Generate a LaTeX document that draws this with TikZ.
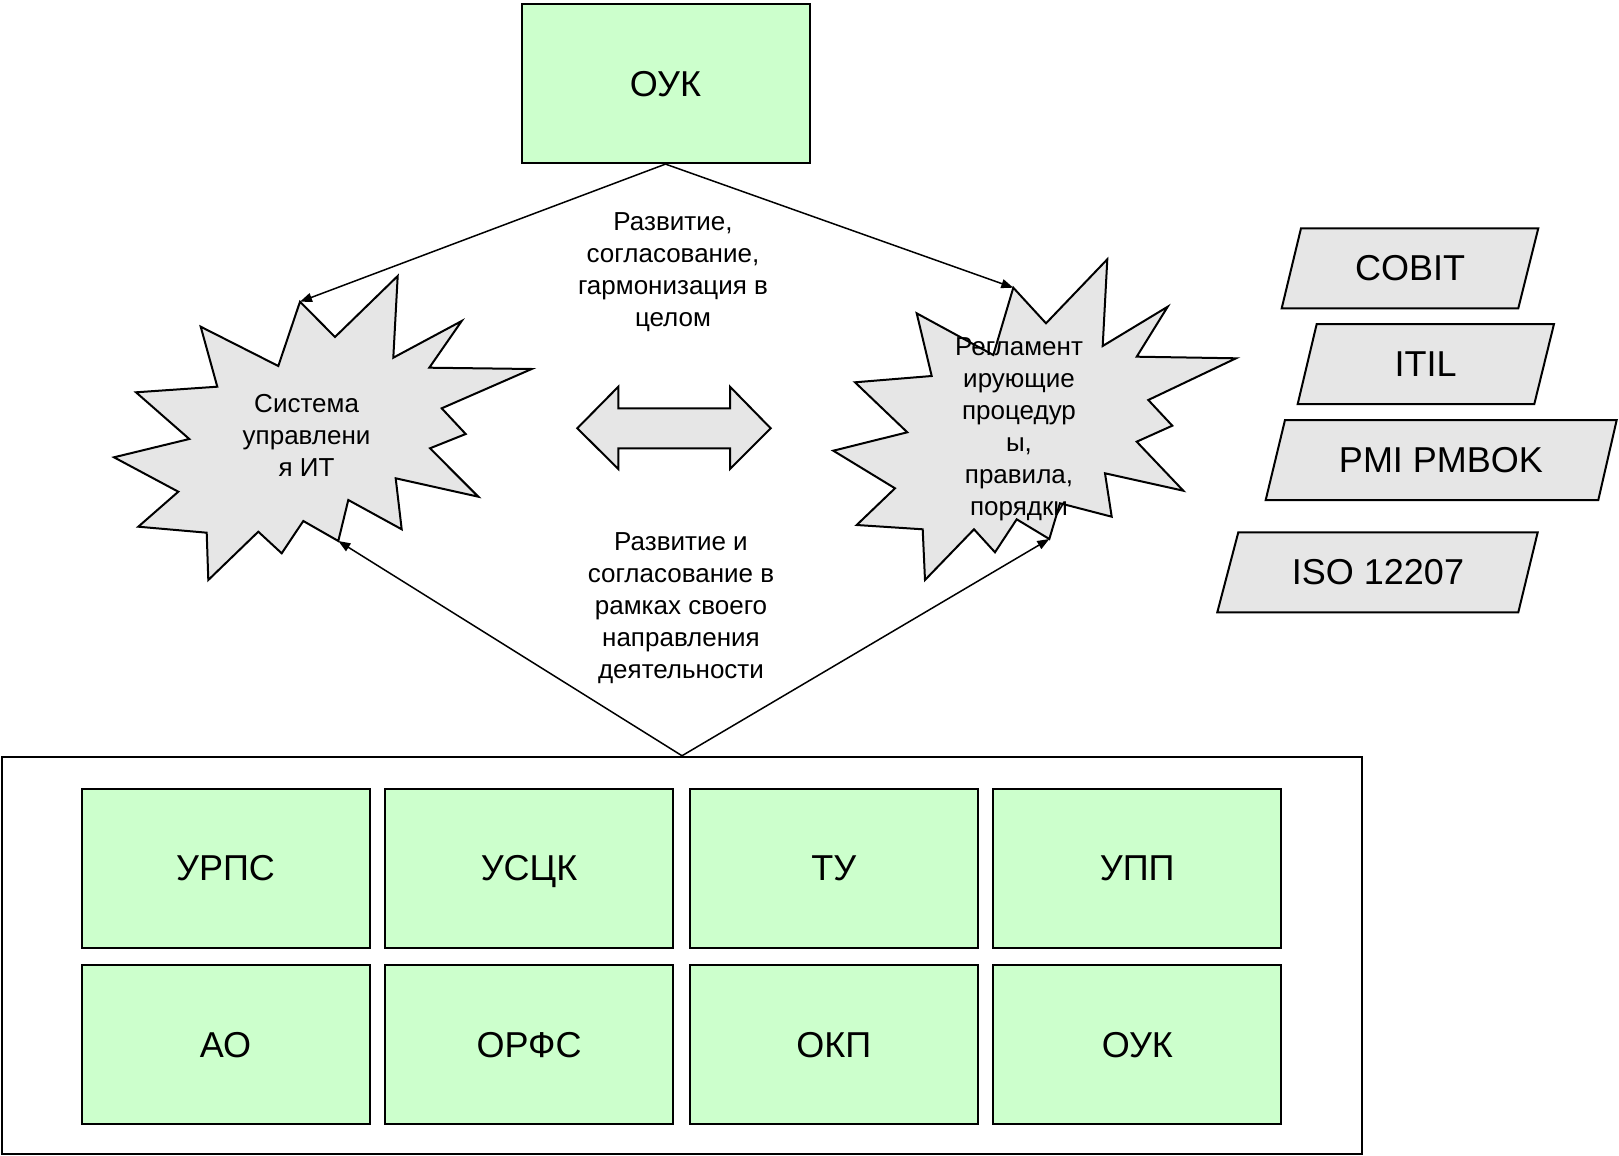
\documentclass[tikz,border=0pt]{standalone}
\usepackage{fontspec}
\setmainfont{Liberation Sans}
\usetikzlibrary{arrows.meta}
\definecolor{unitgreen}{HTML}{CCFFCC}
\definecolor{burstgray}{HTML}{E6E6E6}

\begin{document}
\begin{tikzpicture}[x=0.5pt,y=-0.5pt,
    unit/.style={draw=black,line width=1pt,fill=unitgreen,minimum width=144pt,minimum height=79.5pt,text depth=0pt,font=\fontsize{18}{22}\selectfont},
    std/.style={draw=black,line width=1pt,fill=burstgray},
    burst/.style={draw=black,line width=1pt,fill=burstgray,line join=miter},
    link/.style={line width=0.75pt,-{Triangle[length=6pt,width=4.5pt]}},
    note/.style={align=center,font=\fontsize{13}{16}\selectfont},
    stdtext/.style={font=\fontsize{18}{22}\selectfont}]
      \tikzstyle{every node}+=[inner sep=0pt]
      \useasboundingbox (0,0) rectangle (1619,1156);
      % top unit
      \node[unit] (oukTop) at (665.5,83.6) {ОУК};
      % group of units
      \node[draw=black,line width=1pt,minimum width=680pt,minimum height=198.75pt] (grp) at (682,955.5) {};
      \node[unit] (urps) at (225.6,868.3) {УРПС};
      \node[unit] (usck) at (529.1,868.3) {УСЦК};
      \node[unit] (tu) at (833.7,868.3) {ТУ};
      \node[unit] (upp) at (1137.3,868.3) {УПП};
      \node[unit] (ao) at (225.6,1044.9) {АО};
      \node[unit] (orfs) at (529.1,1044.9) {ОРФС};
      \node[unit] (okp) at (833.7,1044.9) {ОКП};
      \node[unit] (oukLow) at (1137.3,1044.9) {ОУК};
      % left burst
      \draw[burst] (300,301.7) coordinate (itTop) -- (335,337) -- (397.7,276) -- (393.3,357.7)
        -- (461.7,321) -- (429.3,367.7) -- (531.7,369) -- (441.7,408.3) -- (465.7,434)
        -- (430,448.3) -- (478.3,496.7) -- (395.7,478.3) -- (401.7,529.3) -- (348.3,500)
        -- (338.3,541) coordinate (itLow) -- (303.3,521) -- (281.7,553.3) -- (258.3,531.7)
        -- (208.3,580) -- (206.7,532.7) -- (138.3,526.7) -- (178.3,491.7) -- (114,457.3)
        -- (189.3,439) -- (136,392.3) -- (217.3,386.7) -- (200.7,326.7) -- (278.3,366) -- cycle;
      \node[note] (itText) at (306.6,435) {Система\\управлени\\я ИТ};
      % right burst
      \draw[burst] (1013.3,287.7) coordinate (regTop) -- (1046,323.3) -- (1107.3,259.3) -- (1102.7,346)
        -- (1167.7,306.7) -- (1136.7,356.7) -- (1236,358.3) -- (1148.3,400) -- (1172.3,425.7)
        -- (1136.7,441.7) -- (1183.3,490.7) -- (1105,473.3) -- (1111.7,516.7) -- (1060,503.3)
        -- (1049.3,539) coordinate (regLow) -- (1016.7,519.3) -- (995,552.3) -- (974,529.3)
        -- (925,580) -- (922.7,529.3) -- (856.7,525) -- (895,488.3) -- (833.3,450.7)
        -- (907.3,432.3) -- (855,382.3) -- (931.7,376) -- (916.7,313.3) -- (993.3,355) -- cycle;
      \node[note] (regText) at (1019,429.5) {Регламент\\ирующие\\процедур\\ы,\\правила,\\порядки};
      % double arrow
      \draw[std] (577.3,428.3) -- (618.3,386.7) -- (618.3,408.3) -- (730,408.3) -- (730,386.7)
        -- (770.7,428.3) -- (730,469) -- (730,448.3) -- (618.3,448.3) -- (618.3,469) -- cycle;
      % standards
      \draw[std] (1301,228.3) -- (1538.3,228.3) -- (1518.3,308.3) -- (1281.7,308.3) -- cycle;
      \node[stdtext] (cobit) at (1410,268.3) {COBIT};
      \draw[std] (1316.7,324) -- (1554,324) -- (1534.3,404) -- (1297.7,404) -- cycle;
      \node[stdtext] (itil) at (1425.7,364) {ITIL};
      \draw[std] (1285,420) -- (1616.7,420) -- (1598.3,500) -- (1265.7,500) -- cycle;
      \node[stdtext] (pmbok) at (1441,460) {PMI PMBOK};
      \draw[std] (1238.3,532.3) -- (1537.7,532.3) -- (1518.3,612.3) -- (1217.3,612.3) -- cycle;
      \node[stdtext] (iso) at (1378,572.3) {ISO 12207};
      % links
      \draw[link] (oukTop.south) -- (itTop);
      \draw[link] (oukTop.south) -- (regTop);
      \draw[link] (grp.north) -- (itLow);
      \draw[link] (grp.north) -- (regLow);
      \node[note] (topNote) at (673,272) {Развитие,\\согласование,\\гармонизация в\\целом};
      \node[note] (lowNote) at (681,608) {Развитие и\\согласование в\\рамках своего\\направления\\деятельности};
    \end{tikzpicture}
\end{document}
